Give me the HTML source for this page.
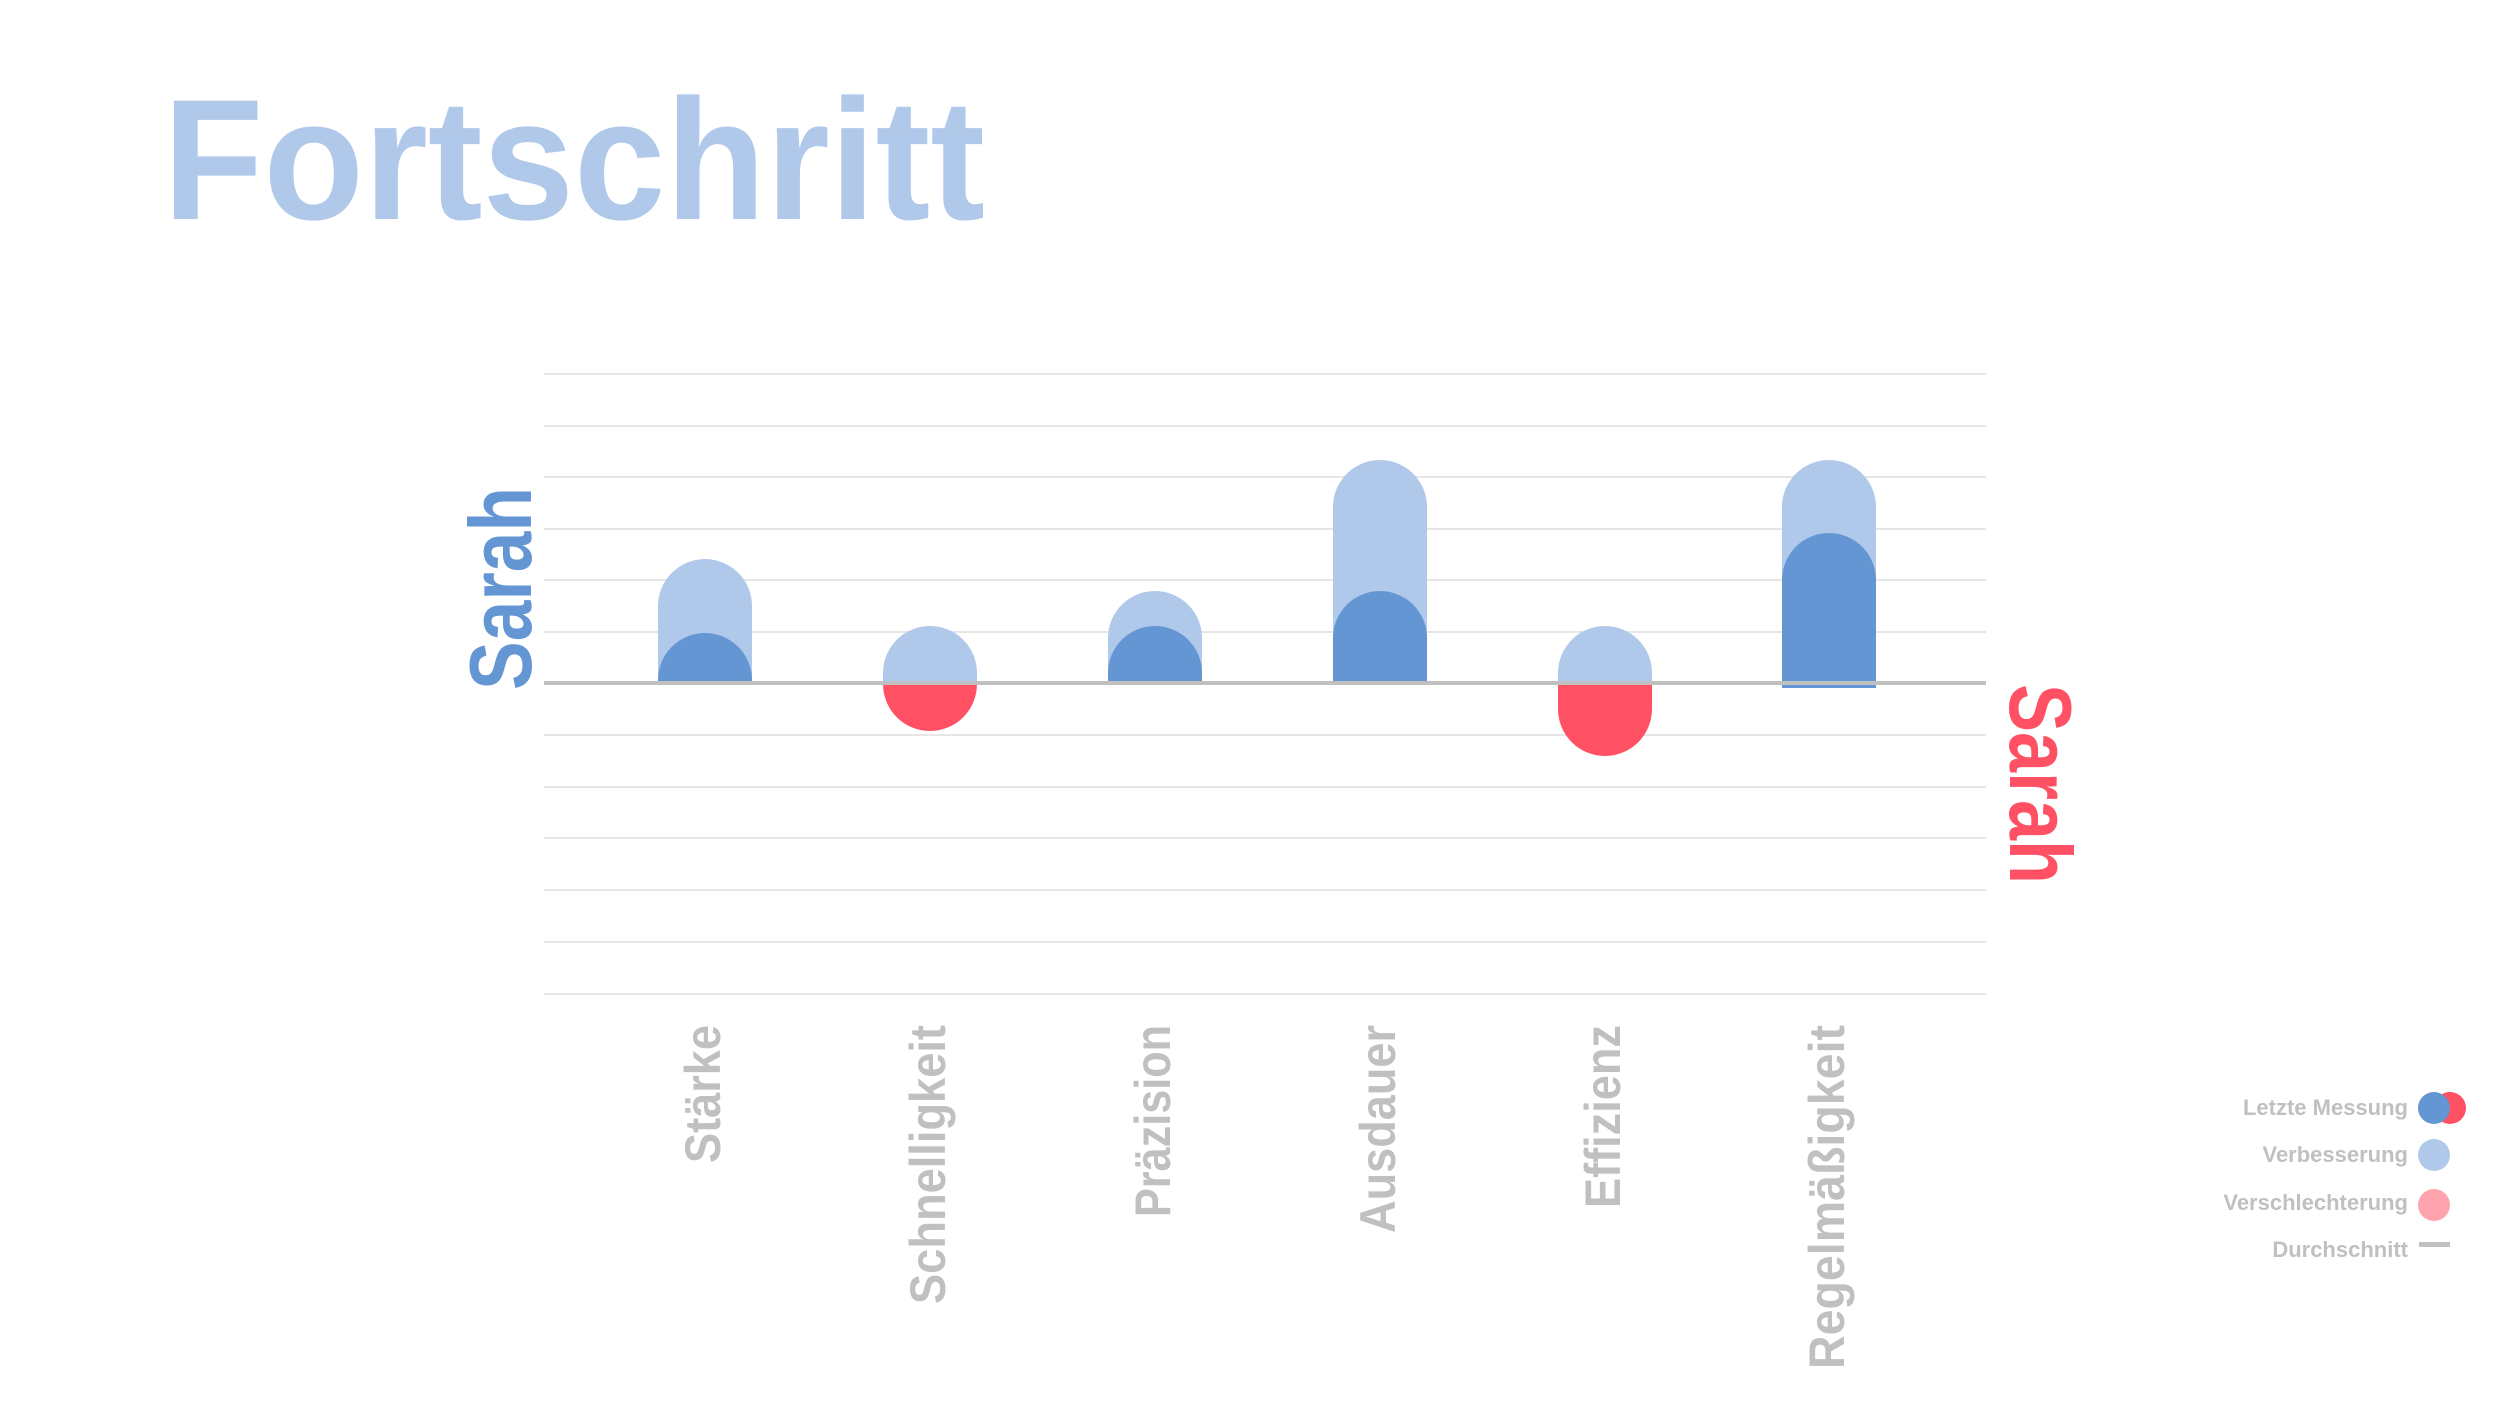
<!DOCTYPE html>
<html><head><meta charset="utf-8"><style>
html,body{margin:0;padding:0;background:#fff;}
svg{display:block;}
text{font-family:"Liberation Sans",sans-serif;font-weight:bold;}
</style></head><body>
<svg width="2500" height="1406" viewBox="0 0 2500 1406" xmlns="http://www.w3.org/2000/svg">
<text x="163" y="219" font-size="172" fill="#b0c9ea" textLength="822" lengthAdjust="spacingAndGlyphs">Fortschritt</text>
<g stroke="#e6e6e6" stroke-width="2">
<line x1="544" x2="1986" y1="374" y2="374"/><line x1="544" x2="1986" y1="426" y2="426"/>
<line x1="544" x2="1986" y1="477" y2="477"/><line x1="544" x2="1986" y1="529" y2="529"/>
<line x1="544" x2="1986" y1="580" y2="580"/><line x1="544" x2="1986" y1="632" y2="632"/>
<line x1="544" x2="1986" y1="735" y2="735"/><line x1="544" x2="1986" y1="787" y2="787"/>
<line x1="544" x2="1986" y1="838" y2="838"/><line x1="544" x2="1986" y1="890" y2="890"/>
<line x1="544" x2="1986" y1="942" y2="942"/><line x1="544" x2="1986" y1="994" y2="994"/>
</g>
<g fill="#b0c9ea">
<path d="M658 683 V606 A47 47 0 0 1 752 606 V683Z"/>
<path d="M883 683 V673 A47 47 0 0 1 977 673 V683Z"/>
<path d="M1108 683 V638 A47 47 0 0 1 1202 638 V683Z"/>
<path d="M1333 683 V507 A47 47 0 0 1 1427 507 V683Z"/>
<path d="M1558 683 V673 A47 47 0 0 1 1652 673 V683Z"/>
<path d="M1782 683 V507 A47 47 0 0 1 1876 507 V683Z"/>
</g>
<g fill="#6496d4">
<path d="M658 683 V680 A47 47 0 0 1 752 680 V683Z"/>
<path d="M1108 683 V673 A47 47 0 0 1 1202 673 V683Z"/>
<path d="M1333 683 V638 A47 47 0 0 1 1427 638 V683Z"/>
<path d="M1782 688 V580 A47 47 0 0 1 1876 580 V688Z"/>
</g>
<g fill="#ff5064">
<path d="M883 683 V684 A47 47 0 0 0 977 684 V683Z"/>
<path d="M1558 683 V709 A47 47 0 0 0 1652 709 V683Z"/>
</g>
<line x1="544" x2="1986" y1="683" y2="683" stroke="#c0c0c0" stroke-width="4"/>
<text transform="translate(531,690) rotate(-90)" font-size="88" fill="#6496d4" textLength="203" lengthAdjust="spacingAndGlyphs">Sarah</text>
<text transform="translate(2010,684) rotate(90)" font-size="88" fill="#ff5064" textLength="200" lengthAdjust="spacingAndGlyphs">Sarah</text>
<g fill="#c0c0c0" font-size="50">
<text transform="translate(720,1163) rotate(-90)" textLength="138" lengthAdjust="spacingAndGlyphs">Stärke</text>
<text transform="translate(945,1304) rotate(-90)" textLength="279" lengthAdjust="spacingAndGlyphs">Schnelligkeit</text>
<text transform="translate(1170,1217) rotate(-90)" textLength="192" lengthAdjust="spacingAndGlyphs">Präzision</text>
<text transform="translate(1395,1233) rotate(-90)" textLength="208" lengthAdjust="spacingAndGlyphs">Ausdauer</text>
<text transform="translate(1620,1208) rotate(-90)" textLength="183" lengthAdjust="spacingAndGlyphs">Effizienz</text>
<text transform="translate(1844,1369) rotate(-90)" textLength="344" lengthAdjust="spacingAndGlyphs">Regelmäßigkeit</text>
</g>
<g fill="#c0c0c0" font-size="22" text-anchor="end">
<text x="2408" y="1115">Letzte Messung</text>
<text x="2408" y="1162">Verbesserung</text>
<text x="2408" y="1210">Verschlechterung</text>
<text x="2408" y="1257">Durchschnitt</text>
</g>
<circle cx="2450" cy="1108" r="16" fill="#ff5064"/>
<circle cx="2434" cy="1108" r="16" fill="#6496d4"/>
<circle cx="2434" cy="1155" r="16" fill="#b0c9ea"/>
<circle cx="2434" cy="1205" r="16" fill="#ffa4ae"/>
<rect x="2419" y="1242" width="31" height="5" fill="#c0c0c0"/>
</svg>
</body></html>
